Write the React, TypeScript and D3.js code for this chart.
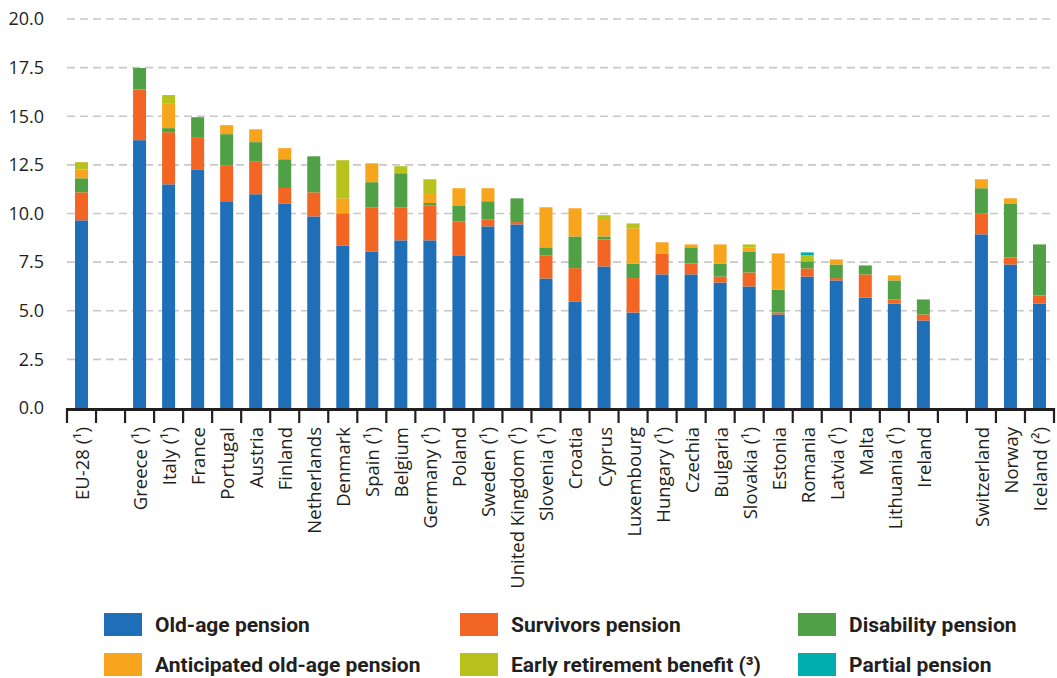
import React from "react";
import * as d3 from "d3";

const categories = [
  "EU-28 (¹)", "", "Greece (¹)", "Italy (¹)", "France", "Portugal", "Austria", "Finland",
  "Netherlands", "Denmark", "Spain (¹)", "Belgium", "Germany (¹)", "Poland", "Sweden (¹)",
  "United Kingdom (¹)", "Slovenia (¹)", "Croatia", "Cyprus", "Luxembourg", "Hungary (¹)",
  "Czechia", "Bulgaria", "Slovakia (¹)", "Estonia", "Romania", "Latvia (¹)", "Malta",
  "Lithuania (¹)", "Ireland", " ", "Switzerland", "Norway", "Iceland (²)",
];

const oldAge = [9.65, 0, 13.77, 11.5, 12.27, 10.63, 10.99, 10.52, 9.85, 8.36, 8.05, 8.62, 8.62, 7.85, 9.34, 9.44, 6.66, 5.48, 7.28, 4.91, 6.87, 6.87, 6.45, 6.25, 4.81, 6.76, 6.56, 5.68, 5.37, 4.5, 0, 8.93, 7.38, 5.37];
const survivors = [1.44, 0, 2.61, 2.68, 1.62, 1.85, 1.7, 0.79, 1.24, 1.65, 2.27, 1.7, 1.8, 1.75, 0.36, 0.12, 1.19, 1.71, 1.39, 1.77, 1.08, 0.56, 0.31, 0.72, 0.1, 0.42, 0.12, 1.19, 0.21, 0.31, 0, 1.08, 0.36, 0.42];
const disability = [0.72, 0, 1.1, 0.21, 1.06, 1.6, 0.98, 1.48, 1.85, 0, 1.29, 1.75, 0.12, 0.82, 0.93, 1.22, 0.41, 1.63, 0.15, 0.75, 0, 0.83, 0.67, 1.08, 1.18, 0.36, 0.7, 0.46, 0.98, 0.77, 0, 1.29, 2.78, 2.62];
const anticipated = [0.46, 0, 0, 1.25, 0, 0.46, 0.66, 0.57, 0, 0.77, 0.97, 0, 0.46, 0.88, 0.67, 0, 2.06, 1.45, 0.85, 1.81, 0.57, 0.15, 0.98, 0.21, 1.86, 0, 0.26, 0, 0.26, 0, 0, 0.46, 0.26, 0];
const earlyRetirement = [0.37, 0, 0, 0.45, 0, 0, 0, 0, 0, 1.96, 0, 0.36, 0.76, 0, 0, 0, 0, 0, 0.24, 0.25, 0, 0, 0, 0.15, 0, 0.31, 0, 0, 0, 0, 0, 0, 0, 0];
const partial = [0, 0, 0, 0, 0, 0, 0, 0, 0, 0, 0, 0, 0, 0, 0, 0, 0, 0, 0, 0, 0, 0, 0, 0, 0, 0.15, 0, 0, 0, 0, 0, 0, 0, 0];

const seriesKeys = ["oldAge", "survivors", "disability", "anticipated", "early", "partial"];
const seriesLabels = [
  "Old-age pension", "Survivors pension", "Disability pension",
  "Anticipated old-age pension", "Early retirement benefit (³)", "Partial pension",
];
const seriesColors = ["#1f6fb8", "#f26522", "#50a146", "#f8a51e", "#b7c21c", "#00aead"];
const yTicks = [0, 2.5, 5, 7.5, 10, 12.5, 15, 17.5, 20];

const W = 1057, H = 678;
const X0 = 67, X1 = 1054, Y0 = 408, Y1 = 19;
const TEXT = "#231f20";

export default function App() {
  const rows = categories.map((c, i) => ({
    idx: i,
    oldAge: oldAge[i], survivors: survivors[i], disability: disability[i],
    anticipated: anticipated[i], early: earlyRetirement[i], partial: partial[i],
  }));
  const stack = d3.stack<any>().keys(seriesKeys);
  const stacked = stack(rows);

  const x = d3.scaleBand<number>()
    .domain(d3.range(categories.length))
    .range([X0, X1])
    .paddingInner(0.552)
    .paddingOuter(0.276);
  const y = d3.scaleLinear().domain([0, 20]).range([Y0, Y1]);
  const step = x.step();
  const boundaries = d3.range(categories.length + 1).map((i) => X0 + i * step);

  const legendCols = [104, 460, 798];
  const legendRows = [613, 653];

  return (
    <svg width={W} height={H} style={{ position: "absolute", left: 0, top: 0, background: "#fff" }}
      fontFamily="'Open Sans', sans-serif">
      {/* gridlines */}
      {yTicks.filter((t) => t > 0).map((t) => (
        <line key={t} x1={X0} x2={X1} y1={y(t)} y2={y(t)} stroke="#c8c8c8" strokeWidth={1.6}
          strokeDasharray="8 5" />
      ))}
      {/* y labels */}
      {yTicks.map((t) => (
        <text key={t} x={44} y={y(t)} dy="0.35em" textAnchor="end" fontSize={18} fill={TEXT}>
          {t.toFixed(1)}
        </text>
      ))}
      {/* bars */}
      {stacked.map((layer, li) => (
        <g key={seriesKeys[li]} fill={seriesColors[li]}>
          {layer.map((d, i) => {
            const h = y(d[0]) - y(d[1]);
            if (h <= 0) return null;
            return <rect key={i} x={x(i)} y={y(d[1])} width={x.bandwidth()} height={h} />;
          })}
        </g>
      ))}
      {/* axis */}
      <line x1={X0 - 1} x2={X1 + 1} y1={Y0 + 1.5} y2={Y0 + 1.5} stroke={TEXT} strokeWidth={3} />
      {boundaries.map((bx, i) => (
        <line key={i} x1={bx} x2={bx} y1={Y0} y2={423} stroke={TEXT} strokeWidth={2.2} />
      ))}
      {/* x labels */}
      {categories.map((c, i) => (
        <text key={i} transform={`translate(${x(i)! + x.bandwidth() / 2 + 1},427) rotate(-90)`}
          textAnchor="end" dy="0.35em" fontSize={18.5} fill={TEXT}>
          {c.trim()}
        </text>
      ))}
      {/* legend */}
      {seriesLabels.map((lab, i) => {
        const cx = legendCols[i % 3];
        const cy = legendRows[Math.floor(i / 3)];
        return (
          <g key={lab}>
            <rect x={cx} y={cy} width={38} height={23} fill={seriesColors[i]} />
            <text x={cx + 51} y={cy + 12} dy="0.35em" fontSize={21} fontWeight="bold"
              fontFamily="Roboto, sans-serif" fill={TEXT}>
              {lab}
            </text>
          </g>
        );
      })}
    </svg>
  );
}
